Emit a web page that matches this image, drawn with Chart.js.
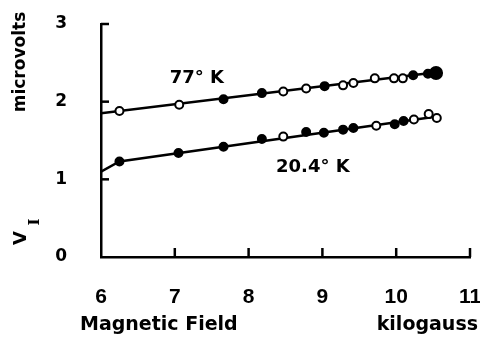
<!DOCTYPE html>
<html lang="en">
<head>
    <meta charset="UTF-8">
    <title>Hall voltage vs magnetic field</title>
    <script src="https://cdn.jsdelivr.net/npm/chart.js"></script>
    <style>
        body { margin: 0; background: #fff; }
        #wrap { width: 480px; height: 337px; }
    </style>
</head>
<body>
    <div id="wrap"><canvas id="hallChart" width="480" height="337"></canvas></div>
    <script>
        // readings at 77 K (upper curve)
        var field77 = [6.25, 7.06, 7.66, 8.18, 8.47, 8.78, 9.03, 9.28, 9.42, 9.71, 9.97, 10.09, 10.23, 10.43, 10.54];
        var volts77 = [1.88, 1.96, 2.03, 2.11, 2.13, 2.17, 2.20, 2.21, 2.24, 2.30, 2.30, 2.30, 2.34, 2.36, 2.37];
        var solid77 = [0, 0, 1, 1, 0, 0, 1, 0, 0, 0, 0, 0, 1, 1, 1];

        // readings at 20.4 K (lower curve)
        var field20 = [6.25, 7.05, 7.66, 8.18, 8.47, 8.78, 9.02, 9.28, 9.42, 9.73, 9.98, 10.10, 10.24, 10.44, 10.55];
        var volts20 = [1.23, 1.34, 1.42, 1.52, 1.55, 1.61, 1.60, 1.64, 1.66, 1.69, 1.71, 1.75, 1.77, 1.84, 1.79];
        var solid20 = [1, 1, 1, 1, 0, 1, 1, 1, 1, 0, 1, 1, 0, 0, 0];

        // hand drawn lines through the points
        var line77X = [6, 10.55];
        var line77Y = [1.85, 2.38];
        var line20X = [6, 6.25, 10.55];
        var line20Y = [1.10, 1.23, 1.81];

        var xTicks = [6, 7, 8, 9, 10, 11];
        var yTicks = [0, 1, 2, 3];

        function pts(xs, ys) {
            return xs.map(function(x, i) { return { x: x, y: ys[i] }; });
        }

        var FONT = '"DejaVu Sans", sans-serif';

        var extras = {
            id: 'extras',
            afterDraw: function(chart) {
                var c = chart.ctx, xs = chart.scales.x, ys = chart.scales.y;
                var left = chart.chartArea.left, bottom = chart.chartArea.bottom;
                c.save();
                c.strokeStyle = '#000';
                c.lineWidth = 2.5;
                // inward tick marks
                xTicks.slice(1).forEach(function(v) {
                    var px = xs.getPixelForValue(v);
                    c.beginPath(); c.moveTo(px, bottom); c.lineTo(px, bottom - 9); c.stroke();
                });
                yTicks.slice(1).forEach(function(v) {
                    var py = ys.getPixelForValue(v);
                    c.beginPath(); c.moveTo(left, py); c.lineTo(left + 8, py); c.stroke();
                });
                c.fillStyle = '#000';
                // curve labels
                c.font = 'bold 18px ' + FONT;
                c.textAlign = 'center';
                c.textBaseline = 'middle';
                c.fillText('77\u00b0 K', xs.getPixelForValue(7.30), ys.getPixelForValue(2.30));
                c.fillText('20.4\u00b0 K', xs.getPixelForValue(8.87), ys.getPixelForValue(1.15));
                // x axis title
                c.font = 'bold 19px ' + FONT;
                c.textAlign = 'left';
                c.fillText('Magnetic Field', 80, 325);
                c.textAlign = 'right';
                c.fillText('kilogauss', 478, 325);
                // y axis title
                c.save();
                c.translate(21, 62);
                c.rotate(-Math.PI / 2);
                c.textAlign = 'center';
                c.font = 'bold 17px ' + FONT;
                c.fillText('microvolts', 0, 0);
                c.restore();
                c.save();
                c.translate(21, 238);
                c.rotate(-Math.PI / 2);
                c.textAlign = 'center';
                c.font = 'bold 18px ' + FONT;
                c.fillText('V', 0, 0);
                c.font = 'bold 15px "DejaVu Serif", serif';
                c.fillText('I', 16, 14);
                c.restore();
                c.restore();
            }
        };

        var ctx = document.getElementById('hallChart').getContext('2d');
        var hallChart = new Chart(ctx, {
            type: 'scatter',
            data: {
                datasets: [{
                    label: '77 K',
                    data: pts(field77, volts77),
                    pointRadius: field77.map(function(x, i) { return i === field77.length - 1 ? 6 : 4; }),
                    pointBackgroundColor: solid77.map(function(s) { return s ? '#000' : '#fff'; }),
                    pointBorderColor: '#000',
                    pointBorderWidth: 2,
                    order: 0
                }, {
                    label: '20.4 K',
                    data: pts(field20, volts20),
                    pointRadius: 4,
                    pointBackgroundColor: solid20.map(function(s) { return s ? '#000' : '#fff'; }),
                    pointBorderColor: '#000',
                    pointBorderWidth: 2,
                    order: 0
                }, {
                    label: 'fit 77',
                    data: pts(line77X, line77Y),
                    showLine: true,
                    pointRadius: 0,
                    borderColor: '#000',
                    borderWidth: 2.5,
                    order: 1
                }, {
                    label: 'fit 20',
                    data: pts(line20X, line20Y),
                    showLine: true,
                    pointRadius: 0,
                    borderColor: '#000',
                    borderWidth: 2.5,
                    order: 1
                }]
            },
            plugins: [extras],
            options: {
                responsive: false,
                animation: false,
                layout: { padding: { top: 24, right: 10, bottom: 0, left: 0 } },
                plugins: { legend: { display: false }, tooltip: { enabled: false } },
                scales: {
                    x: {
                        type: 'linear',
                        min: 6,
                        max: 11,
                        afterBuildTicks: function(s) { s.ticks = xTicks.map(function(v) { return { value: v }; }); },
                        afterFit: function(s) { s.height = 80; s.paddingLeft = 0; s.paddingRight = 0; },
                        grid: { display: false },
                        border: { display: true, color: '#000', width: 2.5 },
                        ticks: { color: '#000', padding: 20, maxRotation: 0, font: { family: '"Liberation Sans", sans-serif', size: 21, weight: 'bold' } }
                    },
                    y: {
                        min: 0,
                        max: 3,
                        afterBuildTicks: function(s) { s.ticks = yTicks.map(function(v) { return { value: v }; }); },
                        afterFit: function(s) { s.width = 101; s.paddingTop = 0; s.paddingBottom = 0; },
                        grid: { display: false },
                        border: { display: true, color: '#000', width: 2.5 },
                        ticks: { color: '#000', padding: 26, font: { family: FONT, size: 17, weight: 'bold' } }
                    }
                }
            }
        });
    </script>
</body>
</html>
